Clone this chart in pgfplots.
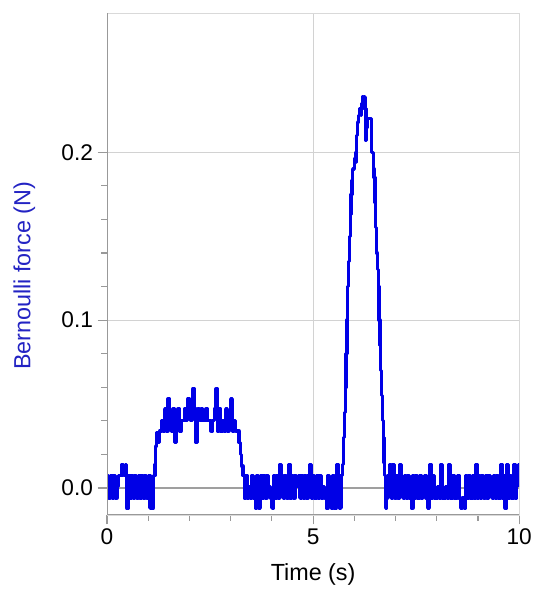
\documentclass[border=0pt]{standalone}
\usepackage{fontspec}
\setmainfont{Liberation Sans}
\usepackage{pgfplots}
\pgfplotsset{compat=1.18}
\usetikzlibrary{calc}
\definecolor{dataBlue}{RGB}{0,0,230}
\definecolor{labBlue}{RGB}{35,35,195}

\pgfplotstableread{
t f
0.00 0.0074
0.04 -0.006
0.08 0.0074
0.12 -0.006
0.16 0.0074
0.20 -0.006
0.24 0.0007
0.28 0.0074
0.32 0.0074
0.36 0.014
0.40 0.0074
0.44 0.014
0.48 -0.012
0.52 0.0074
0.56 -0.006
0.60 0.0074
0.64 -0.006
0.68 0.0074
0.72 -0.006
0.76 0.0074
0.80 -0.006
0.84 0.0074
0.88 -0.006
0.92 0.0074
0.96 -0.006
1.00 0.0074
1.04 -0.012
1.08 -0.012
1.12 0.0074
1.16 0.014
1.18 0.025
1.20 0.033
1.24 0.027
1.28 0.034
1.32 0.040
1.36 0.034
1.40 0.047
1.44 0.034
1.48 0.053
1.52 0.040
1.56 0.034
1.60 0.047
1.64 0.027
1.68 0.040
1.72 0.047
1.76 0.034
1.80 0.040
1.84 0.040
1.88 0.047
1.92 0.040
1.96 0.053
2.00 0.047
2.04 0.040
2.08 0.059
2.12 0.047
2.16 0.027
2.20 0.047
2.24 0.040
2.28 0.047
2.32 0.040
2.36 0.040
2.40 0.047
2.44 0.040
2.48 0.040
2.52 0.034
2.56 0.040
2.60 0.047
2.64 0.059
2.68 0.034
2.72 0.047
2.76 0.034
2.80 0.040
2.84 0.034
2.88 0.047
2.92 0.034
2.96 0.040
3.00 0.053
3.04 0.034
3.08 0.040
3.12 0.034
3.16 0.034
3.20 0.027
3.24 0.020
3.27 0.013
3.30 0.0074
3.33 -0.006
3.36 0.0074
3.40 -0.006
3.44 0.0007
3.48 -0.006
3.52 0.0074
3.56 -0.006
3.60 -0.012
3.64 0.0074
3.68 -0.012
3.72 0.0074
3.76 -0.006
3.80 0.0074
3.84 -0.006
3.88 0.0074
3.92 0.0007
3.96 -0.006
4.00 -0.012
4.04 0.0074
4.08 -0.006
4.12 0.0074
4.16 -0.006
4.20 0.014
4.24 0.0074
4.28 -0.006
4.32 0.0074
4.36 -0.006
4.40 0.014
4.44 -0.006
4.48 0.0074
4.52 -0.006
4.56 0.0074
4.60 0.0007
4.64 0.0074
4.68 -0.006
4.72 0.0074
4.76 -0.006
4.80 0.0074
4.84 -0.006
4.88 0.0074
4.92 0.014
4.96 -0.006
5.00 0.0074
5.04 -0.006
5.08 0.0074
5.12 -0.006
5.16 0.0074
5.20 -0.006
5.24 0.0007
5.28 -0.006
5.32 -0.012
5.36 0.0074
5.40 -0.006
5.44 -0.012
5.48 0.0074
5.52 -0.012
5.56 0.014
5.60 -0.006
5.64 -0.012
5.68 0.0074
5.71 0.014
5.74 0.030
5.76 0.045
5.78 0.060
5.80 0.080
5.82 0.100
5.84 0.120
5.86 0.135
5.88 0.150
5.90 0.163
5.92 0.175
5.94 0.183
5.96 0.190
5.98 0.190
6.00 0.196
6.02 0.194
6.04 0.200
6.06 0.210
6.08 0.218
6.10 0.222
6.13 0.226
6.16 0.222
6.18 0.229
6.20 0.233
6.22 0.226
6.24 0.233
6.26 0.226
6.28 0.207
6.30 0.215
6.32 0.220
6.35 0.220
6.38 0.220
6.40 0.220
6.42 0.200
6.44 0.200
6.46 0.190
6.48 0.185
6.50 0.170
6.52 0.155
6.54 0.140
6.56 0.130
6.58 0.120
6.60 0.100
6.62 0.085
6.64 0.070
6.66 0.055
6.68 0.040
6.70 0.030
6.72 0.015
6.74 0.0074
6.76 -0.012
6.78 -0.006
6.82 0.0074
6.86 0.014
6.90 -0.006
6.94 0.014
6.98 -0.006
7.02 0.0074
7.06 -0.006
7.10 0.014
7.14 0.0007
7.18 -0.006
7.22 0.0074
7.26 -0.006
7.30 0.0074
7.34 -0.006
7.38 -0.012
7.42 0.0074
7.46 -0.006
7.50 0.0074
7.54 -0.006
7.58 0.0074
7.62 -0.006
7.66 0.0007
7.70 0.0074
7.74 -0.006
7.78 -0.012
7.82 0.014
7.86 -0.006
7.90 0.0074
7.94 -0.006
7.98 -0.006
8.02 0.0007
8.06 -0.006
8.10 0.014
8.14 -0.006
8.18 -0.006
8.22 0.0007
8.26 -0.006
8.30 0.014
8.34 -0.006
8.38 0.0074
8.42 -0.006
8.46 -0.006
8.50 0.0074
8.54 -0.006
8.58 -0.012
8.62 -0.006
8.66 -0.012
8.70 0.0074
8.74 -0.006
8.78 0.0074
8.82 -0.006
8.86 0.0074
8.90 -0.006
8.94 0.014
8.98 -0.006
9.02 0.0074
9.06 -0.006
9.10 0.0074
9.14 -0.006
9.18 0.0074
9.22 -0.006
9.26 0.0074
9.30 0.0007
9.34 -0.006
9.38 0.0074
9.42 -0.006
9.46 0.0074
9.50 -0.006
9.54 0.014
9.58 -0.006
9.62 0.0074
9.66 -0.012
9.70 0.014
9.74 -0.006
9.78 0.0074
9.82 -0.006
9.86 0.014
9.90 -0.006
9.94 0.0074
9.98 0.014
10.00 0.0007
}\forcedata

\begin{document}
\begin{tikzpicture}
\begin{axis}[
  scale only axis, width=309pt, height=376pt,
  xmin=0, xmax=10, ymin=-0.0161, ymax=0.2827,
  xtick={0,5,10}, ytick={0,0.1,0.2},
  minor x tick num=4, minor y tick num=4,
  tick pos=left, tick align=outside,
  major tick length=7pt, minor tick length=4.5pt,
  tick style={gray!80, line width=0.9pt},
  axis line style={gray!30, line width=0.8pt},
  xmajorgrids, ymajorgrids, grid style={gray!35, line width=0.8pt},
  ticklabel style={font=\fontsize{17}{20}\selectfont},
  /pgf/number format/assume math mode=true,
  yticklabel style={/pgf/number format/.cd, fixed, fixed zerofill, precision=1},
  xlabel={Time (s)},
  xlabel style={font=\fontsize{17.5}{20}\selectfont, at={(axis description cs:0.5,0)}, anchor=center, yshift=-44.6pt},
  ylabel={Bernoulli force (N)},
  ylabel style={font=\fontsize{17.5}{20}\selectfont, text=labBlue, at={(axis description cs:-0.2006,0.477)}, anchor=center},
  clip=true,
]
\addplot[gray!75, line width=1.3pt, forget plot] coordinates {(0,0) (10,0)};
\addplot[const plot, dataBlue, line width=2.5pt, line join=round] table[x=t, y=f] {\forcedata};
\draw[gray!80, line width=1pt] (rel axis cs:0,1) -- (rel axis cs:0,0) -- (rel axis cs:1,0);
\end{axis}
\pgfresetboundingbox
\path ($(current axis.south west)+(-80.25pt,-56.25pt)$) rectangle ($(current axis.north east)+(10.5pt,10.1pt)$);
\end{tikzpicture}
\end{document}
